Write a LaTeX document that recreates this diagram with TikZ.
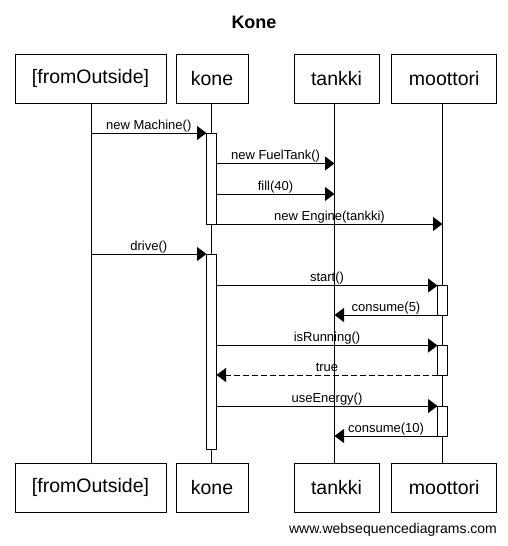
\documentclass[tikz,border=0pt]{standalone}
\usepackage{fontspec}
\setmainfont{Liberation Sans}
\usetikzlibrary{arrows.meta}
\begin{document}
\begin{tikzpicture}[x=1pt,y=-1pt,
  part/.style={draw,line width=1pt,minimum height=49pt,inner sep=0pt,font=\fontsize{19.5}{20}\selectfont},
  life/.style={line width=1pt},
  actbar/.style={draw,fill=white,line width=1pt,minimum width=10pt,inner sep=0pt,outer sep=0pt,anchor=north},
  msg/.style={line width=1pt,-{Triangle[length=9.5pt,width=14pt]}},
  ret/.style={msg,dash pattern=on 6pt off 3pt},
  lbl/.style={pos=0.5,anchor=base,yshift=4pt,inner sep=0pt,font=\fontsize{13}{13}\selectfont}]
\useasboundingbox (0,0) rectangle (508,546);
\node[font=\bfseries\fontsize{18}{18}\selectfont] (title) at (254,22) {Kone};
% participants top
\node[part,minimum width=151pt] (pA) at (90.5,78.5) {[fromOutside]};
\node[part,minimum width=72pt] (pB) at (212,78.5) {kone};
\node[part,minimum width=85pt] (pC) at (336.5,78.5) {tankki};
\node[part,minimum width=105pt] (pD) at (444.2,78.5) {moottori};
% participants bottom
\node[part,minimum width=151pt] (qA) at (90.5,487.5) {[fromOutside]};
\node[part,minimum width=72pt] (qB) at (212,487.5) {kone};
\node[part,minimum width=85pt] (qC) at (336.5,487.5) {tankki};
\node[part,minimum width=105pt] (qD) at (444.2,487.5) {moottori};
% lifelines
\coordinate (lA) at (91,103); \coordinate (lAb) at (91,463);
\coordinate (lB) at (211.5,103); \coordinate (lBb) at (211.5,463);
\coordinate (lC) at (334.5,103); \coordinate (lCb) at (334.5,463);
\coordinate (lD) at (442.5,103); \coordinate (lDb) at (442.5,463);
\draw[life] (lA) -- (lAb);
\draw[life] (lB) -- (lBb);
\draw[life] (lC) -- (lCb);
\draw[life] (lD) -- (lDb);
% activations
\node[actbar,minimum height=91pt] (aB1) at (211.5,133) {};
\node[actbar,minimum height=195pt] (aB2) at (211.5,254) {};
\node[actbar,minimum height=29.5pt] (aD1) at (442.5,285.5) {};
\node[actbar,minimum height=29.5pt] (aD2) at (442.5,345.5) {};
\node[actbar,minimum height=30pt] (aD3) at (442.5,406) {};
% message rows
\coordinate (m1) at (0,133);
\coordinate (m2) at (0,163.5);
\coordinate (m3) at (0,194);
\coordinate (m4) at (0,224);
\coordinate (m5) at (0,254);
\coordinate (m6) at (0,285.5);
\coordinate (m7) at (0,315);
\coordinate (m8) at (0,345.5);
\coordinate (m9) at (0,375);
\coordinate (m10) at (0,406);
\coordinate (m11) at (0,436);
\draw[msg] (lA |- m1) -- (aB1.west |- m1) node[lbl]{new Machine()};
\draw[msg] (aB1.east |- m2) -- (lC |- m2) node[lbl]{new FuelTank()};
\draw[msg] (aB1.east |- m3) -- (lC |- m3) node[lbl]{fill(40)};
\draw[msg] (aB1.east |- m4) -- (lD |- m4) node[lbl]{new Engine(tankki)};
\draw[msg] (lA |- m5) -- (aB2.west |- m5) node[lbl]{drive()};
\draw[msg] (aB2.east |- m6) -- (aD1.west |- m6) node[lbl]{start()};
\draw[msg] (aD1.west |- m7) -- (lC |- m7) node[lbl]{consume(5)};
\draw[msg] (aB2.east |- m8) -- (aD2.west |- m8) node[lbl]{isRunning()};
\draw[ret] (aD2.west |- m9) -- (aB2.east |- m9) node[lbl]{true};
\draw[msg] (aB2.east |- m10) -- (aD3.west |- m10) node[lbl]{useEnergy()};
\draw[msg] (aD3.west |- m11) -- (lC |- m11) node[lbl]{consume(10)};
\node[font=\fontsize{14}{14}\selectfont] (wm) at (393,530) {www.websequencediagrams.com};
\end{tikzpicture}
\end{document}
